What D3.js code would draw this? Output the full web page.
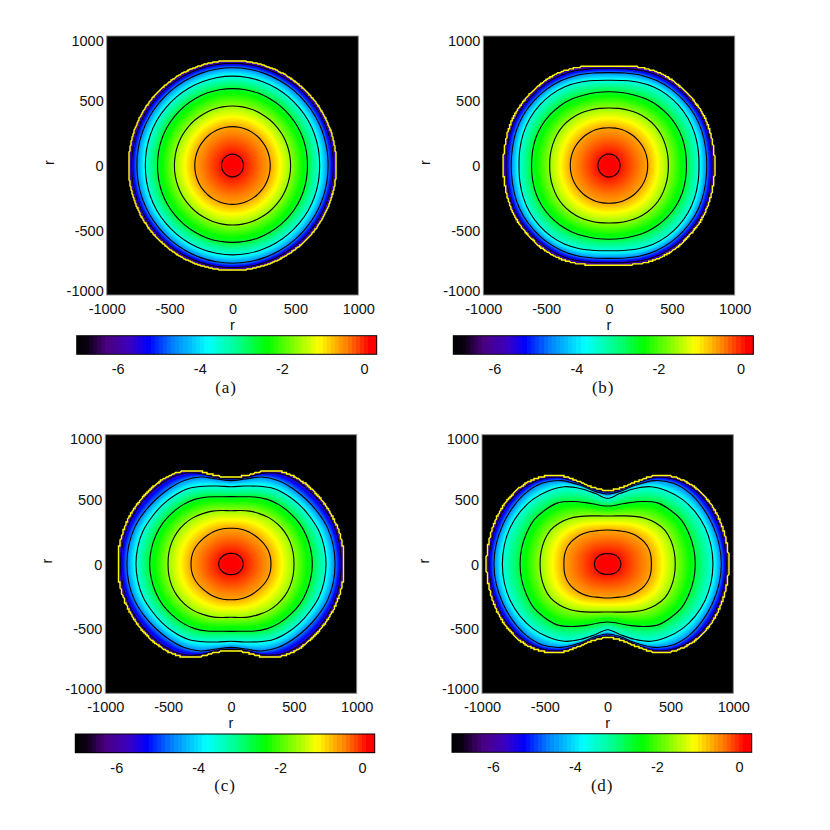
<!DOCTYPE html>
<html><head><meta charset="utf-8">
<script src="https://cdn.jsdelivr.net/npm/d3@7"></script>
<style>
html,body{margin:0;padding:0;background:#fff}
text{font-family:"Liberation Sans",Arial,sans-serif;fill:#111}
.cap{font-family:"Liberation Serif",serif}
</style></head><body>
<svg id="c" width="830" height="830" xmlns="http://www.w3.org/2000/svg"></svg>
<script>
// ---- data ----
const anglesDeg = [0,10,20,30,40,50,60,70,80,90];          // first quadrant, mirrored to the others
const contourLevels = [0.1,-0.6,-1.6,-2.6,-3.6,-4.6,-5.6,-6.1]; // log values, last is the yellow edge
const peakValue = 0.3;
const radiiA = [
 [87,87,87,87,87,87,87,87,88,88],
 [300,300,300,300,300,300,300,300,300,300],
 [462,462,462,462,461,461,460,460,460,460],
 [596,597,598,598,597,596,595,595,594,594],
 [693,694,695,695,693,692,691,690,690,690],
 [760,761,761,760,758,757,756,755,755,755],
 [803,803,802,801,799,797,794,792,790,789],
 [826,826,825,824,822,818,816,813,811,810]];
const radiiB = [
 [88,88,88,88,88,88,88,88,89,89],
 [308,308,307,305,302,300,297,295,293,292],
 [472,474,476,478,477,471,463,454,448,444],
 [616,618,620,618,612,603,592,580,573,570],
 [716,720,725,727,723,715,703,684,666,658],
 [778,780,785,785,778,770,757,742,725,717],
 [820,822,828,826,817,810,798,780,760,751],
 [842,842,846,846,838,832,821,802,780,769]];
const radiiC = [
 [98,97,95,93,90,88,86,84,83,82],
 [318,318,314,306,297,290,286,282,279,276],
 [501,502,500,494,482,468,450,435,420,412],
 [647,644,638,629,613,597,577,552,528,521],
 [756,753,745,727,712,695,675,640,612,598],
 [828,826,817,798,779,763,746,716,668,645],
 [878,877,872,860,847,830,803,748,680,660],
 [900,899,892,880,867,850,822,765,695,670]];
const radiiD = [
 [105,104,102,99,95,90,86,83,81,80],
 [348,350,348,338,322,305,288,273,265,263],
 [538,538,535,525,497,462,425,396,378,371],
 [697,695,688,678,650,617,558,505,465,448],
 [838,835,825,805,777,737,690,620,553,508],
 [905,900,888,873,853,815,745,650,570,541],
 [945,942,935,923,897,850,775,665,585,558],
 [965,962,955,942,917,868,793,680,597,569]];
const axisTicks = [-1000,-500,0,500,1000];
const barTicks = [-6,-4,-2,0];
const captions = ["(a)","(b)","(c)","(d)"];
const axisLabel = "r";
const colorStops = [-7,-6.75,-6.27,-5.7,-5.25,-4.65,-3.8,-3.0,-2.37,-1.72,-1.1,-0.42,0.15,0.31];
const colorNames = ["#000000","#0a0010","#4a0080","#3c00c0","#0000ff","#0080ff","#00ffff","#00ff80","#00ff00","#80ff00","#ffff00","#ff8000","#ff0000","#ff0000"];
// ---- layout ----
const panels = [
 {r:radiiA,cell:1.0,x0:106.7,x1:358.3,y0:295,y1:36,   b0:76.7,b1:376.7,bt:335.7,bb:354.3,cx:226,cy:387},
 {r:radiiB,cell:1.3,x0:483.3,x1:734.7,y0:295,y1:36,   b0:453.3,b1:753.3,bt:335.7,bb:354.3,cx:603,cy:387},
 {r:radiiC,cell:1.5,x0:105.3,x1:356.7,y0:693.3,y1:434.7,b0:75.3,b1:374.7,bt:734,bb:752.7,cx:225,cy:785},
 {r:radiiD,cell:1.5,x0:482,x1:733.3,y0:693.3,y1:434.7,b0:452,b1:751.7,bt:733.7,bb:752.3,cx:602,cy:785}];
const svg = d3.select("#c");
const color = d3.scaleLinear().domain(colorStops).range(colorNames).clamp(true);
const barRange = [-7,0.31];
const quadrant = anglesDeg.length;
const tickFont = 14.5;

function fullAngles(){
  const a=[];
  anglesDeg.forEach(d=>a.push(d));
  for(let i=quadrant-2;i>=0;i--)a.push(180-anglesDeg[i]);
  for(let i=1;i<quadrant;i++)a.push(180+anglesDeg[i]);
  for(let i=quadrant-2;i>0;i--)a.push(360-anglesDeg[i]);
  return a;
}
const allAngles = fullAngles();
function indexOfQuadrant(k){
  const n=quadrant-1;
  const m=k%(2*n);
  return m<=n?m:2*n-m;
}
// follow a smooth path and snap it to a fine cell grid (slightly stair-stepped edge)
function stepped(d,cell){
  const tmp=svg.append("path").attr("d",d);
  const node=tmp.node(), L=node.getTotalLength(), pts=[];
  for(const s of d3.range(0,L,1.0)){
    const q=node.getPointAtLength(s);
    const a=[Math.round(q.x/cell)*cell,Math.round(q.y/cell)*cell];
    const z=pts[pts.length-1];
    if(!z||z[0]!==a[0]||z[1]!==a[1])pts.push(a);
  }
  tmp.remove();
  return d3.line().curve(d3.curveLinearClosed)(pts);
}
function styleTicks(sel){
  sel.attr("font-size",tickFont).style("font-family",'"Liberation Sans"').attr("dy",null)
     .attr("dominant-baseline","central");
}
panels.forEach((p,ip)=>{
  const g=svg.append("g");
  const x=d3.scaleLinear().domain([-1000,1000]).range([p.x0,p.x1]);
  const y=d3.scaleLinear().domain([-1000,1000]).range([p.y0,p.y1]);
  g.append("rect").attr("x",p.x0).attr("y",p.y1).attr("width",p.x1-p.x0).attr("height",p.y0-p.y1)
   .attr("fill","#000").attr("stroke","#8a8a8a").attr("stroke-width",0.9);
  const cols=d3.range(quadrant).map(j=>d3.scaleLinear()
     .domain([peakValue].concat(contourLevels)).range([0].concat(p.r.map(row=>row[j]))));
  const line=d3.line().x(d=>x(d[0])).y(d=>y(d[1])).curve(d3.curveCatmullRomClosed.alpha(0.5));
  const ring=radiusOf=>line(allAngles.map((deg,k)=>{
     const rad=deg*Math.PI/180, r=radiusOf(indexOfQuadrant(k));
     return [r*Math.cos(rad),r*Math.sin(rad)];
  }));
  const field=g.append("g");
  d3.range(contourLevels[contourLevels.length-1],peakValue,0.04).forEach(v=>{
    field.append("path").attr("d",ring(j=>cols[j](v))).attr("fill",color(v));
  });
  contourLevels.forEach((lev,i)=>{
    const edge=i===contourLevels.length-1;
    const d=ring(j=>p.r[i][j]);
    g.append("path").attr("d",edge?stepped(d,p.cell):d).attr("fill","none")
     .attr("stroke",edge?"#ffff00":"#000").attr("stroke-width",edge?1.4:1.1);
  });
  const ax=g.append("g").attr("transform",`translate(0,${p.y0})`)
    .call(d3.axisBottom(x).tickValues(axisTicks).tickSize(0).tickFormat(String));
  ax.select(".domain").remove();
  styleTicks(ax.selectAll("text").attr("y",0).attr("transform","translate(0,14)"));
  const ay=g.append("g").attr("transform",`translate(${p.x0},0)`)
    .call(d3.axisLeft(y).tickValues(axisTicks).tickSize(0).tickPadding(3).tickFormat(String));
  ay.select(".domain").remove();
  styleTicks(ay.selectAll("text").attr("transform",d=>`translate(0,${d===1000?4:d===-1000?-5:0})`));
  g.append("text").attr("x",(p.x0+p.x1)/2).attr("y",p.y0+30).attr("text-anchor","middle")
    .attr("dominant-baseline","central").attr("font-size",tickFont).text(axisLabel);
  g.append("text").attr("transform",`translate(${p.x0-58},${(p.y0+p.y1)/2-3}) rotate(-90)`)
    .attr("text-anchor","middle").attr("dominant-baseline","central").attr("font-size",tickFont).text(axisLabel);
  const bx=d3.scaleLinear().domain(barRange).range([p.b0,p.b1]);
  const steps=d3.range(barRange[0],barRange[1],0.1);
  g.append("g").attr("shape-rendering","crispEdges").selectAll("rect").data(steps).join("rect")
    .attr("x",d=>bx(d)).attr("y",p.bt).attr("width",d=>bx(Math.min(d+0.1,barRange[1]))-bx(d)+0.5)
    .attr("height",p.bb-p.bt).attr("fill",d=>color(d+0.05));
  g.append("rect").attr("x",p.b0).attr("y",p.bt).attr("width",p.b1-p.b0).attr("height",p.bb-p.bt)
    .attr("fill","none").attr("stroke","#000").attr("stroke-width",1);
  const abar=g.append("g").attr("transform",`translate(0,${p.bb})`)
    .call(d3.axisBottom(bx).tickValues(barTicks).tickSize(0).tickFormat(String));
  abar.select(".domain").remove();
  styleTicks(abar.selectAll("text").attr("y",0).attr("transform","translate(0,15)"));
  g.append("text").attr("class","cap").attr("x",p.cx).attr("y",p.cy).attr("text-anchor","middle")
    .attr("dominant-baseline","central").attr("font-size",17).attr("letter-spacing",0.8).text(captions[ip]);
});
</script></body></html>
